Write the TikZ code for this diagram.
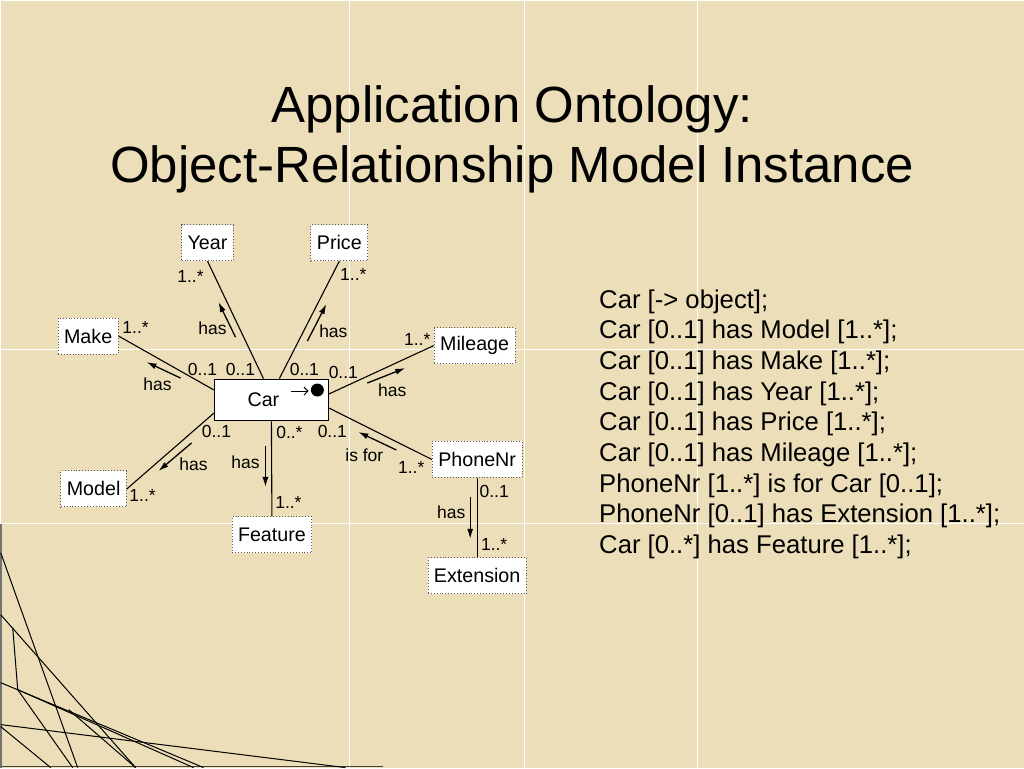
\documentclass[tikz,border=0pt]{standalone}
\usepackage{fontspec}
\setmainfont{Liberation Sans}
\usetikzlibrary{positioning,arrows.meta,calc}
\definecolor{parchment}{RGB}{235,222,184}
\newcommand{\fs}[1]{\fontsize{#1}{#1}\selectfont}

\begin{document}
\begin{tikzpicture}[x=1pt,y=-1pt,
    ent/.style={draw=black!65,dotted,line width=0.9pt,fill=white,minimum height=36pt,inner xsep=6pt,font=\fs{19.7}},
    card/.style={inner sep=0pt,font=\fs{17.5}},
    rel/.style={line width=1.1pt},
    dir/.style={-{Latex[length=10pt,width=6pt]},line width=1.3pt},
    seam/.style={white,line width=1pt},
    deco/.style={line width=1pt}
  ]
    \fill[parchment] (0,0) rectangle (1024,768);
    \draw[seam] (349,0) -- (349,768) (524,0) -- (524,768) (698,0) -- (698,768);
    \draw[seam] (0,349) -- (1024,349) (0,524) -- (1024,524);
    \draw[black!55,line width=1.5pt] (0.5,524) -- (0.5,768);
    \draw[black!75,line width=1.5pt] (0,767) -- (383,767);
    \draw[deco] (0,553) -- (77,768);
    \draw[deco] (0,615) -- (135,768);
    \draw[deco] (12,628) -- (17,690) -- (72,768);
    \draw[deco] (0,683) -- (203,768);
    \draw[deco] (0,725) -- (345,768);
    \draw[deco] (0,727) -- (50,768);
    \draw[deco] (68,710) -- (135,768);
    \draw[deco] (17,690) -- (193,768);

    \node[anchor=base,font=\fs{51}] (t1) at (512,122) {Application Ontology:};
    \node[anchor=base,font=\fs{51}] (t2) at (512,182) {Object-Relationship Model Instance};

    \node[draw,line width=1pt,fill=white,minimum width=114pt,minimum height=42pt,inner sep=0pt,font=\fs{19.7}] (car) at (271,400) {Car\hspace*{16pt}};
    \node[circle,fill,inner sep=0pt,minimum size=13pt] (dot) at (317,390) {};
    \coordinate (cp) at (291,391);
    \draw[-{Straight Barb[length=4pt,width=8pt]},line width=1pt] (cp) -- ([xshift=-2pt,yshift=-1pt]dot.west);

    \node[ent] (year) at (207,242.5) {Year};
    \node[ent] (price) at (339,242.5) {Price};
    \node[ent] (make) at (87.5,336) {Make};
    \node[ent] (mileage) at (474.5,345.5) {Mileage};
    \node[ent] (phone) at (477,459.5) {PhoneNr};
    \node[ent] (model) at (93,489) {Model};
    \node[ent] (feature) at (271.5,535) {Feature};
    \node[ent] (ext) at (477,576) {Extension};

    \draw[rel] ([xshift=-8pt]car.north) -- (year.south);
    \draw[rel] ([xshift=8pt]car.north) -- (price.south);
    \draw[rel] ([yshift=10pt]car.west) -- (make.east);
    \draw[rel] ([yshift=-13pt]car.west) -- (model.east);
    \draw[rel] (car.south) -- (feature.north);
    \draw[rel] ([yshift=6pt]car.east) -- (mileage.west);
    \draw[rel] ([yshift=-8pt]car.east) -- (phone.west);
    \draw[rel] (phone.south) -- (ext.north);

    \coordinate (ya) at (235,337);
    \coordinate (yb) at (218,302);
    \coordinate (pa) at (307,341);
    \coordinate (pb) at (326,304);
    \coordinate (ma) at (180,378);
    \coordinate (mb) at (146,362);
    \coordinate (mia) at (367,383);
    \coordinate (mib) at (405,368);
    \coordinate (pha) at (396,450);
    \coordinate (phb) at (358,432);
    \coordinate (moa) at (191,443);
    \coordinate (mob) at (158,471);
    \coordinate (fa) at (265,446);
    \coordinate (fb) at (265,487);
    \coordinate (ea) at (470,497);
    \coordinate (eb) at (470,539);
    \draw[dir] (ya) -- (yb);
    \draw[dir] (pa) -- (pb);
    \draw[dir] (ma) -- (mb);
    \draw[dir] (mia) -- (mib);
    \draw[dir] (pha) -- (phb);
    \draw[dir] (moa) -- (mob);
    \draw[dir] (fa) -- (fb);
    \draw[dir] (ea) -- (eb);

    \node[card] (hy) at (212,328) {has};
    \node[card] (hp) at (333,331) {has};
    \node[card] (hm) at (157,384) {has};
    \node[card] (hmi) at (392,390) {has};
    \node[card] (hph) at (364,455) {is for};
    \node[card] (hmo) at (193,464) {has};
    \node[card] (hf) at (245,462) {has};
    \node[card] (he) at (451,512) {has};

    \node[card] (cy) at (190,276) {1..*};
    \node[card] (cp1) at (353,274) {1..*};
    \node[card] (cm) at (135,327) {1..*};
    \node[card] (c1) at (202,369) {0..1};
    \node[card] (c2) at (240,369) {0..1};
    \node[card] (c3) at (304,369) {0..1};
    \node[card] (c4) at (343,372) {0..1};
    \node[card] (cmi) at (417,339) {1..*};
    \node[card] (c5) at (216,432) {0..1};
    \node[card] (c6) at (289,433) {0..*};
    \node[card] (c7) at (332,432) {0..1};
    \node[card] (cph) at (411,468) {1..*};
    \node[card] (cmo) at (142,496) {1..*};
    \node[card] (cf) at (288,503) {1..*};
    \node[card] (c8) at (494,492) {0..1};
    \node[card] (ce) at (494,545) {1..*};

    \foreach \t [count=\i] in {{Car [-> object];},{Car [0..1] has Model [1..*];},{Car [0..1] has Make [1..*];},{Car [0..1] has Year [1..*];},{Car [0..1] has Price [1..*];},{Car [0..1] has Mileage [1..*];},{PhoneNr [1..*] is for Car [0..1];},{PhoneNr [0..1] has Extension [1..*];},{Car [0..*] has Feature [1..*];}}
      \node[anchor=base west,inner sep=0pt,font=\fs{25.7}] (dl\i) at (599,{308+30.7*(\i-1)}) {\t};
\end{tikzpicture}
\end{document}
